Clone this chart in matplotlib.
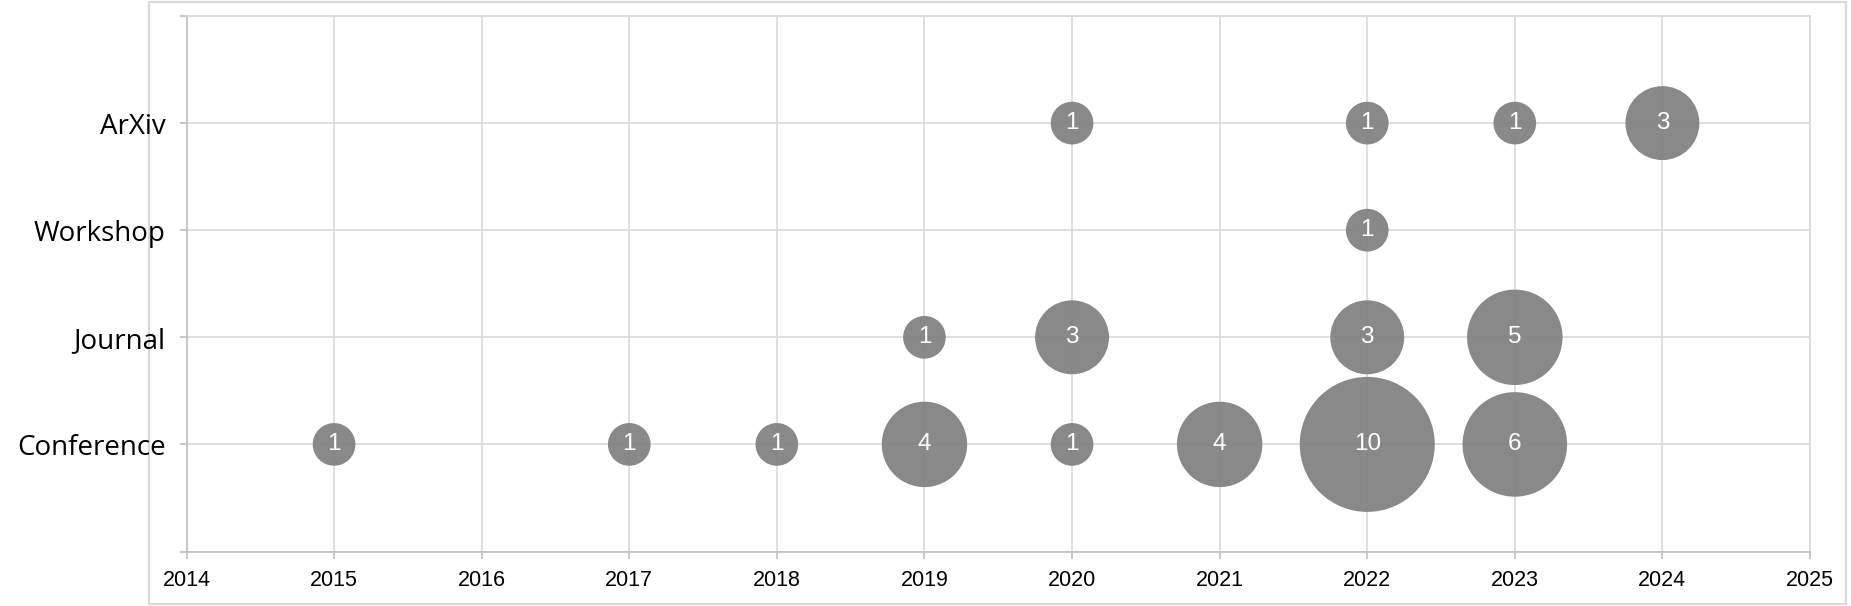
import matplotlib
matplotlib.use("Agg")
import matplotlib.pyplot as plt
from matplotlib.patches import Rectangle

categories = ["Conference", "Journal", "Workshop", "ArXiv"]
conference_years = [2015, 2017, 2018, 2019, 2020, 2021, 2022, 2023]
conference_counts = [1, 1, 1, 4, 1, 4, 10, 6]
journal_years = [2019, 2020, 2022, 2023]
journal_counts = [1, 3, 3, 5]
workshop_years = [2022]
workshop_counts = [1]
arxiv_years = [2020, 2022, 2023, 2024]
arxiv_counts = [1, 1, 1, 3]
x_ticks = list(range(2014, 2026))

series = [
    (conference_years, conference_counts),
    (journal_years, journal_counts),
    (workshop_years, workshop_counts),
    (arxiv_years, arxiv_counts),
]

W, H = 1851, 606
fig = plt.figure(figsize=(W / 100, H / 100), dpi=100)
ax = fig.add_axes([186.5 / W, 1 - 551.5 / H, (1810 - 186.5) / W, (551.5 - 16) / H])
ax.patch.set_alpha(0)

grid_c = "#d9d9d9"
axis_c = "#bfbfbf"
for i, (yrs, cnts) in enumerate(series):
    yv = [i + 1] * len(yrs)
    ax.scatter(yrs, yv, s=[c * 945 for c in cnts], color="#808080", alpha=0.93,
               edgecolors="none", zorder=3)
    for x, c in zip(yrs, cnts):
        ax.text(x, i + 1, str(c), ha="center", va="center", color="white",
                fontsize=17.5, family="Liberation Sans", zorder=4)

ax.set_xlim(2014, 2025)
ax.set_ylim(0, 5)
ax.set_xticks(x_ticks)
ax.set_xticklabels([str(t) for t in x_ticks], fontsize=15.5, family="Liberation Sans")
ax.set_yticks([0, 1, 2, 3, 4, 5])
ax.set_yticklabels([""] + categories + [""], fontsize=20, family="Open Sans")
ax.grid(True, color=grid_c, linewidth=1.2, zorder=0)
ax.set_axisbelow(True)
for side in ["top", "right"]:
    ax.spines[side].set_color(grid_c)
    ax.spines[side].set_linewidth(1.2)
for side in ["left", "bottom"]:
    ax.spines[side].set_color(axis_c)
    ax.spines[side].set_linewidth(1.2)
ax.tick_params(axis="both", length=5, color=axis_c, width=1.2)
ax.tick_params(axis="x", pad=8)
ax.tick_params(axis="y", pad=10)

border = Rectangle((149 / W, 2 / H), (1846 - 149) / W, (604 - 2) / H,
                   transform=fig.transFigure, fill=False,
                   edgecolor=grid_c, linewidth=1.5, zorder=-5)
fig.add_artist(border)

fig.savefig("out.png", dpi=100)
